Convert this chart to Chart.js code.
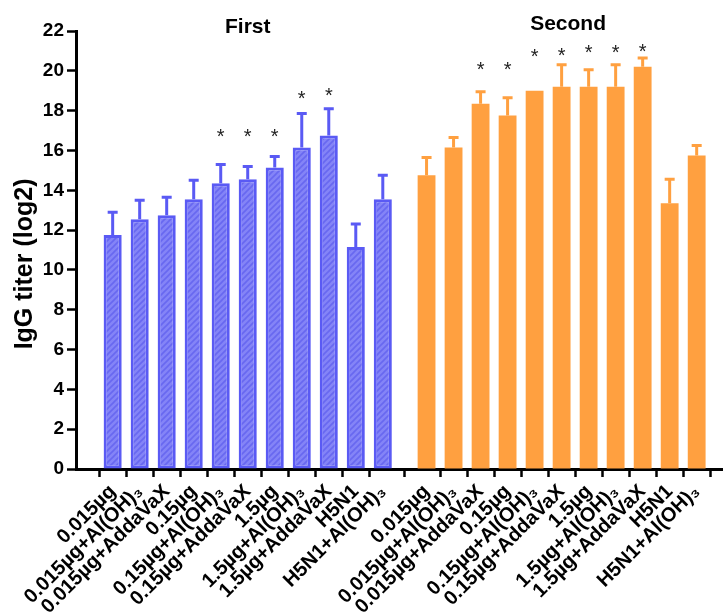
<!DOCTYPE html>
<html>
<head>
<meta charset="utf-8">
<script src="https://cdn.jsdelivr.net/npm/chart.js@4"></script>
<style>
    body { margin: 0; background: #fff; }
    #wrap { width: 723px; height: 614px; position: relative; }
</style>
</head>
<body>
<div id="wrap"><canvas id="titerChart"></canvas></div>
<script>
// ===== DATA =====
const groupLabels = ['0.015µg', '0.015µg+Al(OH)₃', '0.015µg+AddaVaX', '0.15µg', '0.15µg+Al(OH)₃', '0.15µg+AddaVaX',
    '1.5µg', '1.5µg+Al(OH)₃', '1.5µg+AddaVaX', 'H5N1', 'H5N1+Al(OH)₃'];
const panelTitles = ['First', 'Second'];
const yTitle = 'IgG titer (log2)';

const firstMean = [11.75, 12.55, 12.75, 13.55, 14.35, 14.55, 15.15, 16.15, 16.75, 11.15, 13.55];
const firstSd   = [1.15, 0.95, 0.9, 0.95, 0.95, 0.65, 0.55, 1.7, 1.35, 1.15, 1.2];
const firstStar = [null, null, null, null, 16.9, 16.9, 16.9, 18.8, 18.95, null, null];

const secondMean = [14.75, 16.15, 18.35, 17.75, 19.0, 19.2, 19.2, 19.2, 20.2, 13.35, 15.75];
const secondSd   = [0.9, 0.5, 0.6, 0.9, 0, 1.1, 0.85, 1.1, 0.45, 1.2, 0.5];
const secondStar = [null, null, 20.25, 20.25, 20.9, 20.95, 21.1, 21.1, 21.15, null, null];

const yTicks = [0, 2, 4, 6, 8, 10, 12, 14, 16, 18, 20, 22];

// gap between the two groups (in category slots)
const SECOND_OFFSET = 11.62;
const BLUE = '#5a5af4';
const ORANGE = '#ffa040';
const FONT = '"Liberation Sans", Arial, sans-serif';

const firstX = groupLabels.map((_, i) => i);
const secondX = groupLabels.map((_, i) => i + SECOND_OFFSET);
const allX = firstX.concat(secondX);
const allLabels = groupLabels.concat(groupLabels);

function makeHatch(ctx) {
    const c = document.createElement('canvas');
    c.width = 6; c.height = 6;
    const g = c.getContext('2d');
    g.fillStyle = '#8484f7';
    g.fillRect(0, 0, 6, 6);
    g.strokeStyle = '#6868f0';
    g.lineWidth = 1.6;
    g.beginPath();
    g.moveTo(0, 6); g.lineTo(6, 0);
    g.moveTo(-3, 3); g.lineTo(3, -3);
    g.moveTo(3, 9); g.lineTo(9, 3);
    g.stroke();
    return ctx.createPattern(c, 'repeat');
}

// error bars (upper whisker only)
const errorBars = {
    id: 'errorBars',
    afterDatasetsDraw(chart) {
        const ctx = chart.ctx, y = chart.scales.y;
        chart.data.datasets.forEach((ds, di) => {
            chart.getDatasetMeta(di).data.forEach((bar, i) => {
                const sd = ds.errors[i];
                if (!sd) return;
                const top = y.getPixelForValue(ds.data[i].y + sd);
                ctx.save();
                ctx.strokeStyle = ds.errColor;
                ctx.lineWidth = 3;
                ctx.beginPath();
                ctx.moveTo(bar.x, bar.y);
                ctx.lineTo(bar.x, top);
                ctx.moveTo(bar.x - 5, top);
                ctx.lineTo(bar.x + 5, top);
                ctx.stroke();
                ctx.restore();
            });
        });
    }
};

// significance stars, group titles and the y axis title
const annotations = {
    id: 'annotations',
    afterDraw(chart) {
        const ctx = chart.ctx, x = chart.scales.x, y = chart.scales.y;
        ctx.save();
        ctx.fillStyle = '#222';
        ctx.textAlign = 'center';
        ctx.textBaseline = 'middle';
        ctx.font = '20px ' + FONT;
        chart.data.datasets.forEach((ds, di) => {
            chart.getDatasetMeta(di).data.forEach((bar, i) => {
                const s = ds.stars[i];
                if (s == null) return;
                ctx.fillText('*', bar.x, y.getPixelForValue(s) + 4.5);
            });
        });
        ctx.fillStyle = '#000';
        ctx.font = 'bold 21px ' + FONT;
        ctx.fillText(panelTitles[0], x.getPixelForValue(5), y.getPixelForValue(22.18));
        ctx.fillText(panelTitles[1], x.getPixelForValue(16.86), y.getPixelForValue(22.35));

        ctx.font = 'bold 25px ' + FONT;
        ctx.translate(25, y.getPixelForValue(10.3));
        ctx.rotate(-Math.PI / 2);
        ctx.fillText(yTitle, 0, 0);
        ctx.restore();
    }
};

const ctx = document.getElementById('titerChart').getContext('2d');
const hatch = makeHatch(ctx);

new Chart(ctx, {
    type: 'bar',
    data: {
        datasets: [{
            label: panelTitles[0],
            data: firstX.map((v, i) => ({ x: v, y: firstMean[i] })),
            errors: firstSd,
            stars: firstStar,
            errColor: BLUE,
            backgroundColor: hatch,
            borderColor: BLUE,
            borderWidth: 3,
            borderSkipped: false,
            grouped: false,
            barPercentage: 0.67,
            categoryPercentage: 1
        }, {
            label: panelTitles[1],
            data: secondX.map((v, i) => ({ x: v, y: secondMean[i] })),
            errors: secondSd,
            stars: secondStar,
            errColor: ORANGE,
            backgroundColor: ORANGE,
            borderWidth: 0,
            grouped: false,
            barPercentage: 0.66,
            categoryPercentage: 1
        }]
    },
    options: {
        responsive: true,
        maintainAspectRatio: false,
        animation: false,
        layout: { padding: { top: 31, left: 0, right: 0, bottom: 0 } },
        plugins: {
            legend: { display: false },
            tooltip: { enabled: false }
        },
        scales: {
            x: {
                type: 'linear',
                min: -0.813,
                max: 22.05,
                afterBuildTicks: scale => { scale.ticks = allX.map(v => ({ value: v })); },
                afterFit: scale => { scale.height = 145; },
                ticks: {
                    autoSkip: false,
                    minRotation: 45,
                    maxRotation: 45,
                    padding: 3,
                    color: '#000',
                    font: { family: FONT, size: 20, weight: 'bold' },
                    callback: (v, i) => allLabels[i]
                },
                grid: { drawOnChartArea: false, drawTicks: true, tickLength: 8, tickWidth: 2.5, tickColor: '#000' },
                border: { display: true, color: '#000', width: 3 }
            },
            y: {
                min: 0,
                max: 22,
                afterBuildTicks: scale => { scale.ticks = yTicks.map(v => ({ value: v })); },
                afterFit: scale => { scale.width = 76; },
                ticks: {
                    padding: 3,
                    color: '#000',
                    font: { family: FONT, size: 19, weight: 'bold' }
                },
                grid: { drawOnChartArea: false, drawTicks: true, tickLength: 9, tickWidth: 2.5, tickColor: '#000' },
                border: { display: true, color: '#000', width: 3 }
            }
        }
    },
    plugins: [errorBars, annotations]
});
</script>
</body>
</html>
